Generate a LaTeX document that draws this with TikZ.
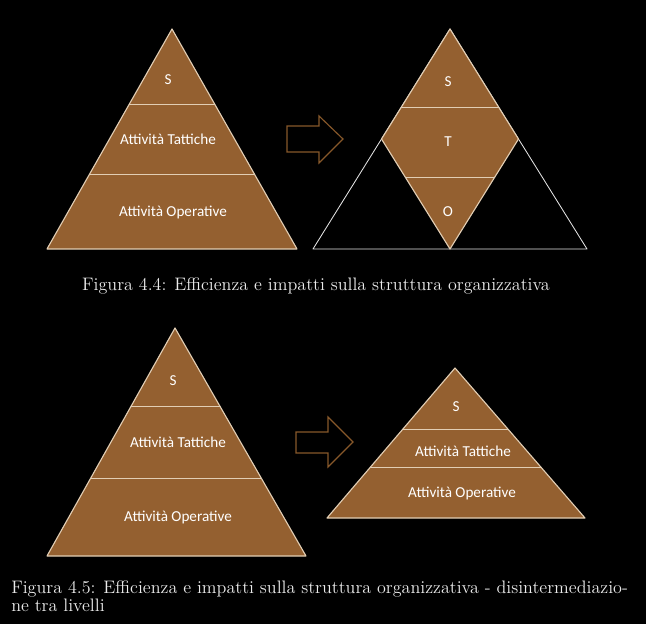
\documentclass[tikz,border=0pt]{standalone}
\usepackage{fontspec}
\newfontfamily\calib{Carlito}
\definecolor{bronze}{RGB}{148,96,48}
\definecolor{rim}{RGB}{226,206,180}
\definecolor{arrowrim}{RGB}{135,88,42}
\definecolor{capgray}{RGB}{236,236,236}
\tikzset{
  tier/.style={fill=bronze,draw=rim,line width=0.8pt,line join=round},
  divider/.style={draw=rim,line width=0.6pt},
  frame/.style={draw=white!80!gray,line width=0.6pt,line join=round},
  lvltext/.style={text=white,inner sep=0pt,font=\calib\fontsize{10.8}{12}\selectfont},
  shiftarrow/.style={draw=arrowrim,line width=0.8pt,fill=black,line join=miter},
  figcap/.style={text=capgray,inner sep=0pt,font=\fontsize{12.85}{12.8}\selectfont}
}
\begin{document}
\begin{tikzpicture}[x=0.025cm,y=-0.025cm]
\fill[black] (0,0) rectangle (646,624);
% figura 4.4, piramide
\draw[tier] (172,29) -- (297,249) -- (47,249) -- cycle;
\scope
\clip (172,29) -- (297,249) -- (47,249) -- cycle;
\draw[divider] (40,104) -- (300,104) (40,174) -- (300,174);
\endscope
\node[lvltext] (s1) at (168,80) {S};
\node[lvltext] (t1) at (168,139) {Attività Tattiche};
\node[lvltext] (o1) at (173,212) {Attività Operative};
% freccia
\draw[shiftarrow] (287,126) -- (319,126) -- (319,116) -- (343,139)
      -- (319,163) -- (319,152) -- (287,152) -- cycle;
% rombo dentro il triangolo
\draw[frame] (450,29) -- (587,249) -- (313,249) -- cycle;
\draw[tier] (450,29) -- (518.5,139) -- (450,249) -- (381.5,139) -- cycle;
\scope
\clip (450,29) -- (518.5,139) -- (450,249) -- (381.5,139) -- cycle;
\draw[divider] (370,107) -- (530,107) (370,177) -- (530,177);
\endscope
\node[lvltext] (s2) at (448,82) {S};
\node[lvltext] (t2) at (448,142) {T};
\node[lvltext] (o2) at (448,212) {O};
\node[figcap,anchor=base] (cap1) at (316,290)
  {Figura 4.4: Efficienza e impatti sulla struttura organizzativa};
% figura 4.5, piramide
\draw[tier] (175,328) -- (306,556) -- (47,556) -- cycle;
\scope
\clip (175,328) -- (306,556) -- (47,556) -- cycle;
\draw[divider] (40,406) -- (310,406) (40,478) -- (310,478);
\endscope
\node[lvltext] (s3) at (173,381) {S};
\node[lvltext] (t3) at (178,442) {Attività Tattiche};
\node[lvltext] (o3) at (178,517) {Attività Operative};
% freccia
\draw[shiftarrow] (296,432) -- (328,432) -- (328,417) -- (353,442)
      -- (328,467) -- (328,453) -- (296,453) -- cycle;
% piramide schiacciata
\draw[tier] (455,368) -- (585,518) -- (327,518) -- cycle;
\scope
\clip (455,368) -- (585,518) -- (327,518) -- cycle;
\draw[divider] (320,429) -- (590,429) (320,467) -- (590,467);
\endscope
\node[lvltext] (s4) at (456,407) {S};
\node[lvltext] (t4) at (463,451) {Attività Tattiche};
\node[lvltext] (o4) at (462,493) {Attività Operative};
\node[figcap,anchor=north west,align=left] (cap2) at (11,580)
  {Figura 4.5: Efficienza e impatti sulla struttura organizzativa - disintermediazio-\\ne tra livelli};
\end{tikzpicture}
\end{document}
